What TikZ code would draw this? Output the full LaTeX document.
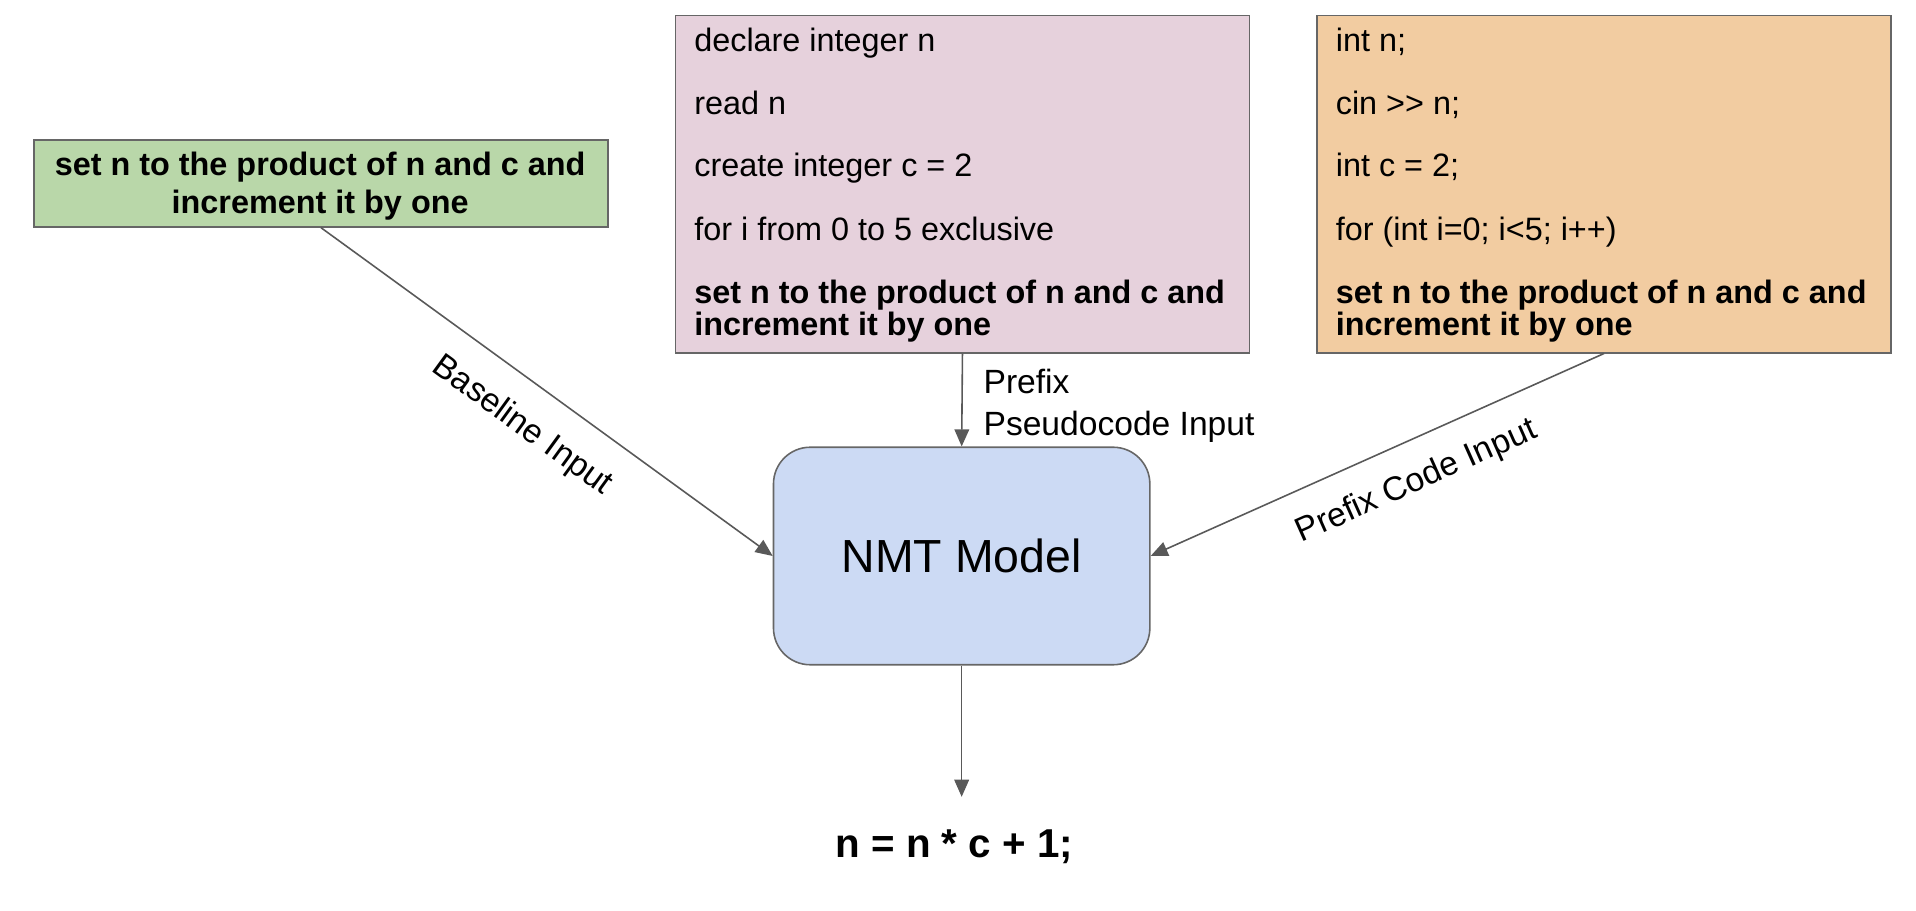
\documentclass[tikz,border=0pt]{standalone}
\usepackage{fontspec}
\setmainfont{Liberation Sans}
\usetikzlibrary{arrows.meta}
\definecolor{gfill}{HTML}{B9D7A9}
\definecolor{pfill}{HTML}{E6D1DC}
\definecolor{ofill}{HTML}{F2CCA1}
\definecolor{bfill}{HTML}{CCDAF4}
\definecolor{edgec}{HTML}{666666}
\definecolor{arrc}{HTML}{595959}
\begin{document}
\begin{tikzpicture}[x=1pt,y=-1pt,
  box/.style={draw=edgec, line width=1.3pt, inner sep=0pt, minimum width=470pt, anchor=north west},
  txt/.style={inner sep=0pt, anchor=base west, font=\fontsize{26.5}{26.5}\selectfont},
  btxt/.style={txt, font=\fontsize{26.5}{26.5}\selectfont\bfseries},
  conn/.style={draw=arrc, line width=1.3pt, -{Triangle[length=14pt,width=12pt]}},
  lab/.style={inner sep=0pt, font=\fontsize{27.5}{34}\selectfont}
]
\useasboundingbox (0,0) rectangle (1568,745);

% green baseline box
\node[box, fill=gfill, minimum height=71pt] (green) at (27,114) {};
\node[btxt, anchor=base] (g1) at (262,143.5) {set n to the product of n and c and};
\node[btxt, anchor=base] (g2) at (262,174.5) {increment it by one};

% pink pseudocode box
\node[box, fill=pfill, minimum height=276pt] (pink) at (552,12) {};
\node[txt] (p1) at (568,42.5) {declare integer n};
\node[txt] (p2) at (568,93.5) {read n};
\node[txt] (p3) at (568,144.5) {create integer c = 2};
\node[txt] (p4) at (568,196.5) {for i from 0 to 5 exclusive};
\node[btxt] (p5) at (568,248.5) {set n to the product of n and c and};
\node[btxt] (p6) at (568,274.5) {increment it by one};

% orange code box
\node[box, fill=ofill, minimum height=276pt] (orange) at (1077,12) {};
\node[txt] (c1) at (1093,42.5) {int n;};
\node[txt] (c2) at (1093,93.5) {cin >{}> n;};
\node[txt] (c3) at (1093,144.5) {int c = 2;};
\node[txt] (c4) at (1093,196.5) {for (int i=0; i<5; i++)};
\node[btxt] (c5) at (1093,248.5) {set n to the product of n and c and};
\node[btxt] (c6) at (1093,274.5) {increment it by one};

% model
\node[draw=edgec, fill=bfill, line width=1.3pt, rounded corners=30pt,
      minimum width=308pt, minimum height=178pt,
      font=\fontsize{38}{38}\selectfont] (nmt) at (787,455) {NMT Model};

% output
\node[inner sep=0pt, anchor=base, font=\fontsize{33}{33}\selectfont\bfseries] (out) at (781,702) {n = n * c + 1;};

% connectors
\draw[conn] (green.south) -- (nmt.west)
  node[lab, pos=0.5, sloped, below=21pt] (lb) {Baseline Input};
\draw[conn] (pink.south) -- (nmt.north)
  node[lab, pos=0.56, right=17pt, align=left] (lp) {Prefix\\Pseudocode Input};
\draw[conn] (orange.south) -- (nmt.east)
  node[lab, pos=0.45, sloped, below=20pt] (lc) {Prefix Code Input};
\draw[conn, shorten >=27pt] (nmt.south) -- (nmt.south |- out.north);
\end{tikzpicture}
\end{document}
